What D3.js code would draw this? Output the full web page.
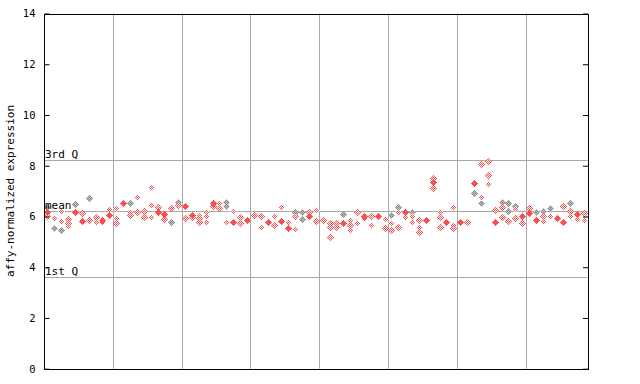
<!DOCTYPE html>
<html><head><meta charset="utf-8">
<script src="https://cdn.jsdelivr.net/npm/d3@7"></script>
<style>body{margin:0;background:#fff}svg{display:block}text{font-family:"DejaVu Sans Mono",monospace;fill:#000}</style>
</head><body><div id="chart"></div>
<script>
const yTicks = [0, 2, 4, 6, 8, 10, 12, 14];
const groupBoundaries = [10, 20, 30, 40, 50, 60, 70];
const refLabels = ["3rd Q", "mean", "1st Q"];
const refValues = [8.21, 6.23, 3.61];
const yLabel = "affy-normalized expression";
// sample index, value, kind (s = solid red, r = hatched red, g = grey)
const pointSample = [
 0,0,0, 1,1, 2,2,2, 3,3,3, 4,4, 5,5, 6,6, 7,7, 8,8, 9,9,
 10,10,10, 11, 12,12,12, 13,13, 14,14, 15,15,15, 16,16, 17,17, 18,18, 19,19,
 20,20, 21,21, 22,22,22, 23,23,23, 24,24, 25,25, 26,26,26, 27,27, 28,28, 29,
 30, 31,31, 32, 33,33, 34,34, 35,35, 36,36,36, 37,37, 38,38, 39,39,
 40, 41,41,41, 42,42, 43,43, 44,44,44, 45,45, 46,46, 47,47, 48, 49,49,
 50,50,50, 51,51,51, 52,52, 53,53,53, 54,54,54, 55, 56,56,56, 57,57,57, 58, 59,59,59,
 60, 61, 62,62, 63,63,63, 64,64,64, 65,65, 66,66,66, 67,67,67, 68,68,68, 69,69,
 70,70, 71,71, 72,72,72, 73,73, 74, 75,75, 76,76,76, 77,77, 78,78
];
const pointValue = [
 6.37,6.18,6.02, 5.94,5.55, 6.22,5.82,5.47, 5.90,5.74,5.63, 6.49,6.18, 6.14,5.82, 6.73,5.86, 5.98,5.78, 5.86,5.78, 6.29,6.06,
 6.33,5.94,5.74, 6.53, 6.53,6.18,6.06, 6.77,6.18, 6.22,5.98, 7.16,6.45,5.98, 6.37,6.18, 6.10,5.90, 6.33,5.78, 6.57,6.45,
 6.41,5.94, 6.06,5.98, 6.06,5.94,5.78, 6.18,6.00,5.78, 6.53,6.41, 6.53,6.33, 6.57,6.41,5.78, 6.22,5.78, 5.98,5.74, 5.86,
 6.06, 6.02,5.59, 5.78, 6.02,5.67, 6.37,5.82, 5.78,5.55, 6.18,6.00,5.51, 6.18,5.90, 6.18,6.00, 6.25,5.82,
 5.86, 5.74,5.59,5.19, 5.74,5.59, 6.10,5.74, 5.86,5.67,5.47, 6.18,5.74, 6.02,5.94, 6.00,5.67, 6.02, 5.90,5.55,
 6.06,5.74,5.47, 6.37,6.18,5.59, 6.18,5.98, 6.18,6.00,5.78, 5.86,5.59,5.39, 5.86, 7.52,7.36,7.12, 6.18,5.98,5.59, 5.78, 6.37,5.67,5.55,
 5.78, 5.78, 7.30,6.93, 8.07,6.77,6.53, 8.19,7.63,7.28, 6.25,5.78, 6.57,6.37,5.98, 6.53,6.22,5.82, 6.41,6.29,5.94, 6.02,5.74,
 6.33,6.14, 6.18,5.86, 6.22,6.02,5.82, 6.33,6.02, 5.94, 6.41,5.78, 6.53,6.22,6.02, 6.10,5.90, 6.14,5.86
];
const pointKind = [
 "g","s","r", "r","g", "r","r","g", "r","r","r", "g","s", "r","s", "g","r", "r","r", "s","r", "r","s",
 "r","r","r", "s", "g","r","r", "r","r", "r","r", "r","r","r", "r","s", "s","r", "r","g", "g","r",
 "s","r", "s","r", "r","r","r", "r","r","r", "s","r", "r","r", "g","g","r", "r","s", "r","r", "s",
 "r", "r","r", "s", "r","r", "r","s", "r","s", "g","r","r", "g","g", "r","s", "r","r",
 "r", "r","r","r", "r","r", "g","s", "r","r","r", "r","r", "s","r", "r","r", "s", "r","r",
 "g","r","r", "g","r","r", "s","r", "g","r","r", "r","r","r", "s", "r","s","r", "r","r","r", "s", "r","r","r",
 "s", "r", "s","g", "r","r","g", "r","r","r", "r","s", "g","r","r", "g","g","r", "g","r","r", "s","r",
 "r","s", "g","s", "g","r","r", "g","r", "s", "r","s", "g","r","r", "s","r", "r","r"
];

const W = 640, H = 384;
const mLeft = 44, mRight = 587.5, mTop = 13.5, mBottom = 368.7;
const svg = d3.select("#chart").append("svg").attr("width", W).attr("height", H);
const defs = svg.append("defs");
function checker(id, col, bg) {
  const p = defs.append("pattern").attr("id", id).attr("patternUnits", "userSpaceOnUse")
    .attr("width", 2).attr("height", 2);
  p.append("rect").attr("width", 2).attr("height", 2).attr("fill", bg);
  p.append("rect").attr("x", 0).attr("y", 0).attr("width", 1).attr("height", 1).attr("fill", col);
  p.append("rect").attr("x", 1).attr("y", 1).attr("width", 1).attr("height", 1).attr("fill", col);
}
checker("hr", "#ff4d4d", "#fff");
checker("hg", "#8c8c8c", "#bdbdbd");

const x = d3.scaleLinear().domain([0, 79]).range([mLeft, mRight]);
const xs = i => x(i + 0.5);
const y = d3.scaleLinear().domain([0, 14]).range([mBottom, mTop]);

// grid verticals
svg.append("g").selectAll("line").data(groupBoundaries).join("line")
  .attr("x1", d => Math.round(x(d)) + 0.5).attr("x2", d => Math.round(x(d)) + 0.5)
  .attr("y1", mTop).attr("y2", mBottom).attr("stroke", "#a8a8a8").attr("stroke-width", 1);
// reference lines
svg.append("g").selectAll("line").data(refValues).join("line")
  .attr("x1", mLeft).attr("x2", mRight)
  .attr("y1", d => Math.round(y(d)) + 0.5).attr("y2", d => Math.round(y(d)) + 0.5)
  .attr("stroke", "#a8a8a8").attr("stroke-width", 1);

// points
const pts = pointSample.map((s, i) => ({s, v: pointValue[i], k: pointKind[i]}));
const order = {g: 0, r: 1, s: 2};
pts.sort((a, b) => order[a.k] - order[b.k]);
svg.append("g").attr("shape-rendering", "crispEdges").selectAll("path").data(pts).join("path")
  .attr("d", d => {
    const cx = Math.round(xs(d.s)) + 0.5, cy = Math.round(y(d.v)) + 0.5, r = 3.6;
    return `M${cx},${cy - r}L${cx + r},${cy}L${cx},${cy + r}L${cx - r},${cy}Z`;
  })
  .attr("fill", d => d.k === "s" ? "#ff4d4d" : d.k === "r" ? "url(#hr)" : "url(#hg)");

// reference labels
svg.append("g").selectAll("text").data(refValues).join("text")
  .attr("x", mLeft + 1).attr("y", d => Math.round(y(d)) - 2)
  .attr("font-size", 11).text((d, i) => refLabels[i]);

// axes
const yAxisL = d3.axisLeft(y).tickValues(yTicks).tickSize(-5).tickPadding(9).tickFormat(d3.format("d"));
const gl = svg.append("g").attr("transform", `translate(${mLeft + 0.5},0)`).call(yAxisL);
const yAxisR = d3.axisRight(y).tickValues(yTicks).tickSize(-5).tickFormat("");
const gr = svg.append("g").attr("transform", `translate(${mRight + 0.5},0)`).call(yAxisR);
[gl, gr].forEach(g => {
  g.select(".domain").remove();
  g.selectAll(".tick line").attr("stroke", "#000");
});
gl.selectAll(".tick text").attr("font-size", 10.5).attr("font-family", "DejaVu Sans Mono, monospace");
// frame
svg.append("rect").attr("x", mLeft + 0.5).attr("y", Math.round(mTop) + 0.5)
  .attr("width", Math.round(mRight - mLeft)).attr("height", Math.round(mBottom - mTop))
  .attr("fill", "none").attr("stroke", "#000").attr("stroke-width", 1);

svg.append("text").attr("transform", `translate(14,191) rotate(-90)`)
  .attr("text-anchor", "middle").attr("font-size", 11).text(yLabel);
</script></body></html>
